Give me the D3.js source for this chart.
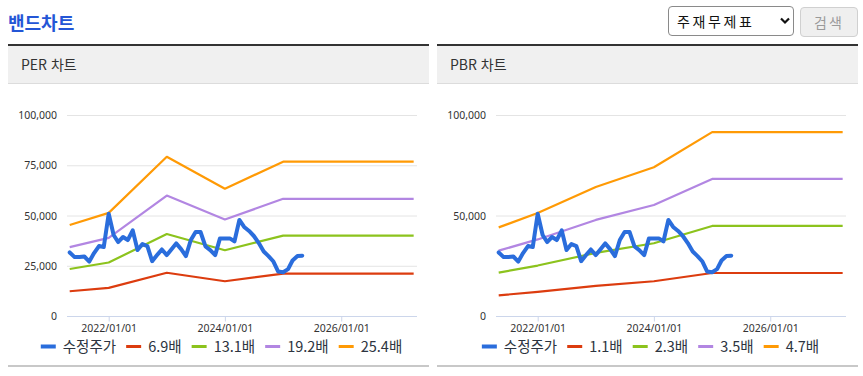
<!DOCTYPE html>
<html lang="ko">
<head>
<meta charset="utf-8">
<script src="https://cdn.jsdelivr.net/npm/d3@7"></script>
<style>
  body { margin: 0; background: #fff; font-family: "Noto Sans CJK KR", "Noto Sans", sans-serif; }
  #page { position: relative; width: 863px; height: 376px; overflow: hidden; }
  .title { position: absolute; left: 8px; top: 9px; font-size: 18px; font-weight: bold; color: #2456d6; }
  .selWrap { position: absolute; left: 668px; top: 6px; width: 126px; height: 30px; }
  .selWrap select { -webkit-appearance: none; appearance: none; width: 126px; height: 30px; border: 1px solid #8a8a8a; border-radius: 4px;
    background: #fff; font-family: "Noto Sans CJK KR", sans-serif; font-size: 14px; color: #111; padding: 0 0 0 8px; letter-spacing: 2.6px; }
  .selWrap svg { position: absolute; left: 112px; top: 11px; pointer-events: none; }
  .btn { position: absolute; left: 800px; top: 7px; width: 56px; height: 28px; border: 1px solid #d0d0d0; border-radius: 4px; background: #efefef;
    color: #9a9a9a; font-size: 14px; text-align: center; line-height: 28px; letter-spacing: 2px; }
  .panel { position: absolute; top: 44px; width: 421px; height: 323px; }
  .panel .head { height: 37px; border-top: 2px solid #333; border-bottom: 1px solid #dcdcdc; background: #f0f0f0;
    font-size: 14px; color: #333; line-height: 37px; padding-left: 13px; }
  .panel svg.chart { position: absolute; left: 0; top: 40px; }
  .panel .foot { position: absolute; left: 0; top: 321px; width: 421px; height: 2px; background: #c8c8c8; }
</style>
</head>
<body>
<div id="page">
  <div class="title">밴드차트</div>
  <div class="selWrap">
    <select><option>주재무제표</option></select>
    <svg width="10" height="8"><path d="M1,1.5 L5,5.5 L9,1.5" fill="none" stroke="#111" stroke-width="2.2"/></svg>
  </div>
  <div class="btn">검색</div>
</div>
<script>
// monthly adjusted close (수정주가)
const priceMonths = [
  "2021-05","2021-06","2021-07","2021-08","2021-09","2021-10","2021-11","2021-12",
  "2022-01","2022-02","2022-03","2022-04","2022-05","2022-06","2022-07","2022-08","2022-09","2022-10","2022-11","2022-12",
  "2023-01","2023-02","2023-03","2023-04","2023-05","2023-06","2023-07","2023-08","2023-09","2023-10","2023-11","2023-12",
  "2024-01","2024-02","2024-03","2024-04","2024-05","2024-06","2024-07","2024-08","2024-09","2024-10","2024-11","2024-12",
  "2025-01","2025-02","2025-03","2025-04","2025-05"
];
const priceValues = [
  31600, 29300, 29300, 29600, 27100, 31300, 34800, 34300,
  50900, 40300, 36800, 39300, 37800, 42600, 32800, 35800, 34800, 27300, 30300, 33100,
  30300, 33300, 36100, 33300, 29800, 37800, 41800, 41800, 34600, 32800, 30300, 38600,
  38600, 38600, 37100, 47800, 44300, 42300, 39800, 36300, 32100, 29800, 27100, 22100,
  21800, 23300, 27600, 29800, 30000
];

// band anchor dates
const bandDates = ["2021-05", "2022-01", "2023-01", "2024-01", "2025-01", "2027-04"];

// PER bands
const perLabels = ["6.9배", "13.1배", "19.2배", "25.4배"];
const per69 = [12300, 14000, 21500, 17300, 21100, 21100];
const per131 = [23400, 26600, 40800, 32700, 40000, 40000];
const per192 = [34300, 38900, 59900, 48000, 58300, 58300];
const per254 = [45300, 51300, 79200, 63300, 76800, 76800];

// PBR bands
const pbrLabels = ["1.1배", "2.3배", "3.5배", "4.7배"];
const pbr11 = [10300, 12000, 15000, 17300, 21400, 21400];
const pbr23 = [21600, 25100, 31400, 36200, 44800, 44800];
const pbr35 = [32500, 38100, 47800, 55200, 68200, 68200];
const pbr47 = [44100, 51200, 64200, 74000, 91500, 91500];

const perTicks = [0, 25000, 50000, 75000, 100000];
const pbrTicks = [0, 50000, 100000];
const xTicks = ["2022-01-01", "2024-01-01", "2026-01-01"];

const priceLabel = "수정주가";
const bandColors = ["#dc3c0f", "#8cc31d", "#b286e2", "#ff9a05"];
const priceColor = "#2a6ddc";

const parseM = d3.timeParse("%Y-%m");
const parseD = d3.timeParse("%Y-%m-%d");
const fmtX = d3.timeFormat("%Y/%m/%d");
const fmtY = d3.format(",");

const W = 421, H = 281;
const margin = { top: 31, left: 59, right: 12, bottom: 49 };
const tickFont = "'Noto Sans', 'Noto Sans CJK KR', sans-serif";

function drawPanel(left, title, labels, bands, yTicks) {
  const panel = d3.select("#page").append("div")
    .attr("class", "panel")
    .style("left", left + "px");
  panel.append("div").attr("class", "head").text(title);
  panel.append("div").attr("class", "foot");

  const svg = panel.append("svg").attr("class", "chart")
    .attr("width", W).attr("height", H);

  const x = d3.scaleTime()
    .domain([new Date(2021, 3, 14), new Date(2027, 3, 22)])
    .range([margin.left, W - margin.right]);
  const y = d3.scaleLinear()
    .domain([0, 100000])
    .range([H - margin.bottom, margin.top]);

  // grid
  svg.append("g").selectAll("line")
    .data(yTicks.filter(t => t > 0))
    .join("line")
    .attr("x1", margin.left).attr("x2", W - margin.right)
    .attr("y1", d => y(d) + 0.5).attr("y2", d => y(d) + 0.5)
    .attr("stroke", "#e4e4e4").attr("stroke-width", 1);

  // y axis labels
  const yAxis = svg.append("g")
    .attr("transform", `translate(${margin.left - 10},0)`)
    .call(d3.axisLeft(y).tickValues(yTicks).tickFormat(fmtY).tickSize(0));
  yAxis.select(".domain").remove();
  yAxis.selectAll("text")
    .attr("x", 0).attr("dy", "0.35em")
    .style("font-family", tickFont)
    .style("font-size", "10.5px").attr("fill", "#333");

  // x axis
  const xAxis = svg.append("g")
    .attr("transform", `translate(0,${y(0) + 0.5})`)
    .call(d3.axisBottom(x).tickValues(xTicks.map(parseD)).tickFormat(fmtX).tickSize(5).tickPadding(3));
  xAxis.select(".domain").attr("stroke", "#ccd6eb")
    .attr("d", `M${margin.left},0H${W - margin.right}`);
  xAxis.selectAll(".tick line").attr("stroke", "#ccd6eb");
  xAxis.selectAll("text")
    .style("font-family", tickFont)
    .style("font-size", "10.5px").attr("fill", "#333");

  const line = d3.line().x(d => x(d[0])).y(d => y(d[1]));

  bands.forEach((vals, i) => {
    svg.append("path")
      .datum(bandDates.map((d, j) => [parseM(d), vals[j]]))
      .attr("fill", "none")
      .attr("stroke", bandColors[i])
      .attr("stroke-width", 2.2)
      .attr("stroke-linejoin", "round")
      .attr("d", line);
  });

  svg.append("path")
    .datum(priceMonths.map((d, j) => [parseM(d), priceValues[j]]))
    .attr("fill", "none")
    .attr("stroke", priceColor)
    .attr("stroke-width", 4)
    .attr("stroke-linejoin", "round")
    .attr("stroke-linecap", "round")
    .attr("d", line);

  // legend
  const items = [{ name: priceLabel, color: priceColor, w: 4 }]
    .concat(labels.map((l, i) => ({ name: l, color: bandColors[i], w: 3 })));
  const leg = svg.append("g");
  let cx = 0;
  items.forEach(it => {
    const g = leg.append("g").attr("transform", `translate(${cx},0)`);
    g.append("line").attr("x1", 0).attr("x2", 15).attr("y1", 0).attr("y2", 0)
      .attr("stroke", it.color).attr("stroke-width", it.w);
    const t = g.append("text").attr("x", 22).attr("dy", "0.36em")
      .style("font-family", "'Noto Sans CJK KR', sans-serif")
      .style("font-size", "14.5px").attr("fill", "#2d3440")
      .text(it.name);
    cx += 22 + t.node().getComputedTextLength() + 10;
  });
  const legW = cx - 10;
  leg.attr("transform", `translate(${(W - legW) / 2 + 3},${262.5})`);
}

drawPanel(8, "PER 차트", perLabels, [per69, per131, per192, per254], perTicks);
drawPanel(437, "PBR 차트", pbrLabels, [pbr11, pbr23, pbr35, pbr47], pbrTicks);
</script>
</body>
</html>
